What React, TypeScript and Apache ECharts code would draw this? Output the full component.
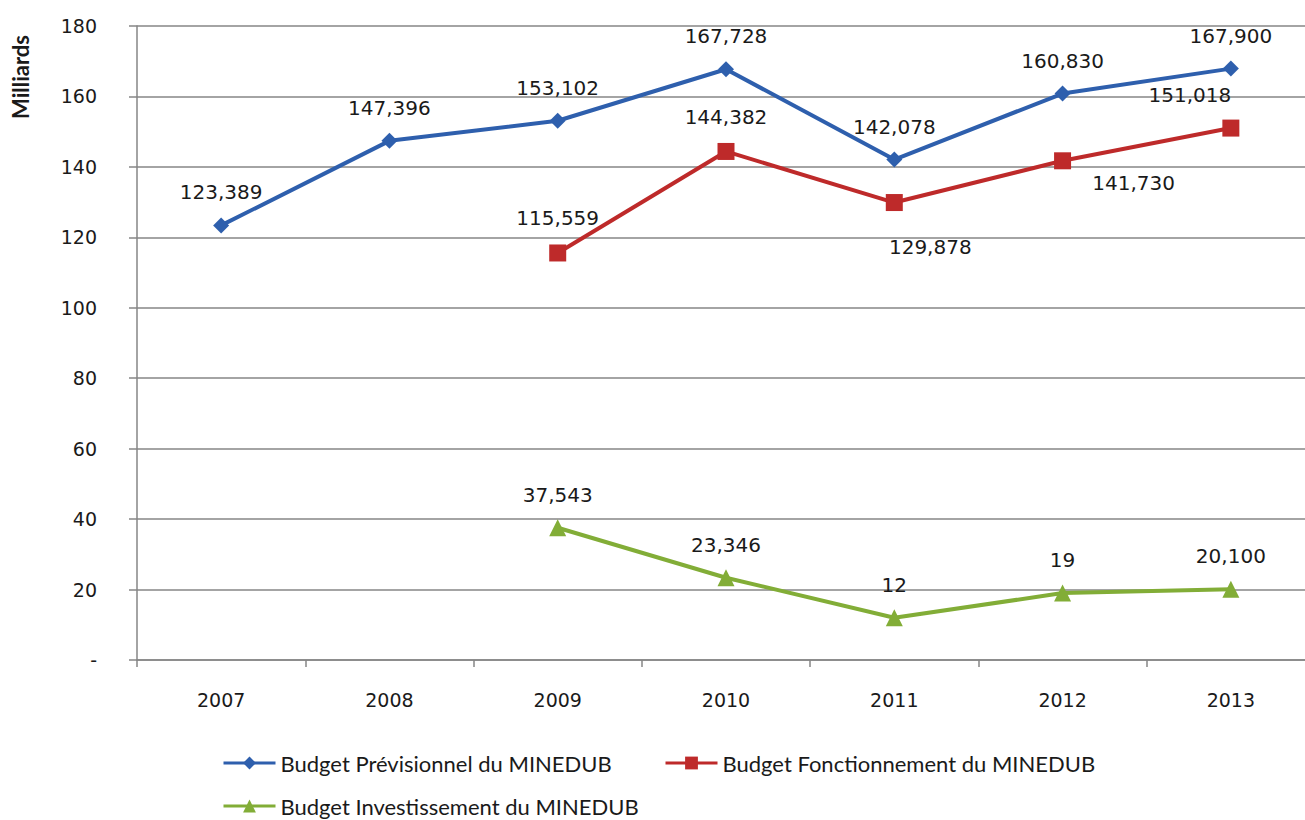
import React, { useEffect, useRef } from "react";
import * as echarts from "echarts";

const years = ["2007", "2008", "2009", "2010", "2011", "2012", "2013"];
const previsionnel = [123.389, 147.396, 153.102, 167.728, 142.078, 160.83, 167.9];
const fonctionnement = [null, null, 115.559, 144.382, 129.878, 141.73, 151.018];
const investissement = [null, null, 37.543, 23.346, 12, 19, 20.1];
const seriesNames = [
  "Budget Prévisionnel du MINEDUB",
  "Budget Fonctionnement du MINEDUB",
  "Budget Investissement du MINEDUB",
];
const yTicks = { min: 0, max: 180, interval: 20 };

const fmt = (v: number) =>
  Number.isInteger(v) ? String(v) : v.toFixed(3).replace(".", ",");

const LABEL_FONT = "DejaVu Sans, Verdana, sans-serif";
const LEGEND_FONT = "Lato, Calibri, sans-serif";

export default function App() {
  const ref = useRef<HTMLDivElement>(null);
  useEffect(() => {
    if (!ref.current) return;
    const chart = echarts.init(ref.current, undefined, { renderer: "svg" });

    const redOffsets: Record<number, number[]> = {
      2: [0, -35],
      3: [0, -34],
      4: [36, 44],
      5: [71, 22],
      6: [-41, -33],
    };

    const mk = (vals: (number | null)[], offsets?: Record<number, number[]>) =>
      vals.map((v, i) =>
        v == null
          ? null
          : {
              value: v,
              label: { offset: (offsets && offsets[i]) || [0, -33] },
            }
      );

    const labelBase = {
      show: true,
      position: "inside",
      fontFamily: LABEL_FONT,
      fontSize: 20,
      color: "#1a1a1a",
      formatter: (p: any) => fmt(p.value),
    };

    const legendBase = {
      itemWidth: 52,
      itemHeight: 16,
      padding: 0,
      lineStyle: { width: 3 },
      textStyle: { fontFamily: LEGEND_FONT, fontSize: 22, color: "#1a1a1a", lineHeight: 20 },
      selectedMode: false,
      orient: "horizontal",
    };

    chart.setOption({
      animation: false,
      backgroundColor: "#ffffff",
      grid: { left: 137, top: 26, width: 1178, height: 634 },
      legend: [
        { ...legendBase, data: [seriesNames[0]], left: 222, top: 752 },
        { ...legendBase, data: [seriesNames[1]], left: 664, top: 752 },
        { ...legendBase, data: [seriesNames[2]], left: 222, top: 795 },
      ],
      graphic: [
        {
          type: "text",
          x: 20,
          y: 77,
          rotation: Math.PI / 2,
          style: {
            text: "Milliards",
            fontFamily: LEGEND_FONT,
            fontWeight: "bold",
            fontSize: 22,
            fill: "#1a1a1a",
            align: "center",
            verticalAlign: "middle",
          },
        },
      ],
      xAxis: {
        type: "category",
        data: years,
        boundaryGap: true,
        axisLine: { lineStyle: { color: "#868686", width: 1.5 } },
        axisTick: { show: true, length: 7, alignWithLabel: false, lineStyle: { color: "#868686", width: 1.5 } },
        axisLabel: { fontFamily: LABEL_FONT, fontSize: 19, color: "#1a1a1a", margin: 30 },
      },
      yAxis: {
        type: "value",
        min: yTicks.min,
        max: yTicks.max,
        interval: yTicks.interval,
        axisLine: { show: true, lineStyle: { color: "#868686", width: 1.5 } },
        axisTick: { show: true, length: 8, lineStyle: { color: "#868686", width: 1.5 } },
        splitLine: { show: true, lineStyle: { color: "#868686", width: 1.5 } },
        axisLabel: {
          fontFamily: LABEL_FONT,
          fontSize: 19,
          color: "#1a1a1a",
          margin: 40,
          formatter: (v: number) => (v === 0 ? "-" : String(v)),
        },
      },
      series: [
        {
          name: seriesNames[0],
          type: "line",
          data: mk(previsionnel),
          symbol: "diamond",
          symbolSize: 16,
          itemStyle: { color: "#2E5FAD" },
          lineStyle: { color: "#2E5FAD", width: 4 },
          label: labelBase,
          z: 3,
        },
        {
          name: seriesNames[1],
          type: "line",
          data: mk(fonctionnement, redOffsets),
          symbol: "rect",
          symbolSize: 17,
          itemStyle: { color: "#BE2A2A" },
          lineStyle: { color: "#BE2A2A", width: 4 },
          label: labelBase,
          z: 2,
        },
        {
          name: seriesNames[2],
          type: "line",
          data: mk(investissement),
          symbol: "triangle",
          symbolSize: 17,
          itemStyle: { color: "#82AD37" },
          lineStyle: { color: "#82AD37", width: 4 },
          label: labelBase,
          z: 2,
        },
      ],
    });
    return () => chart.dispose();
  }, []);

  return (
    <div style={{ position: "absolute", left: 0, top: 0, width: 1305, height: 820, overflow: "hidden" }}>
      <div ref={ref} style={{ width: 1315, height: 820 }} />
    </div>
  );
}
